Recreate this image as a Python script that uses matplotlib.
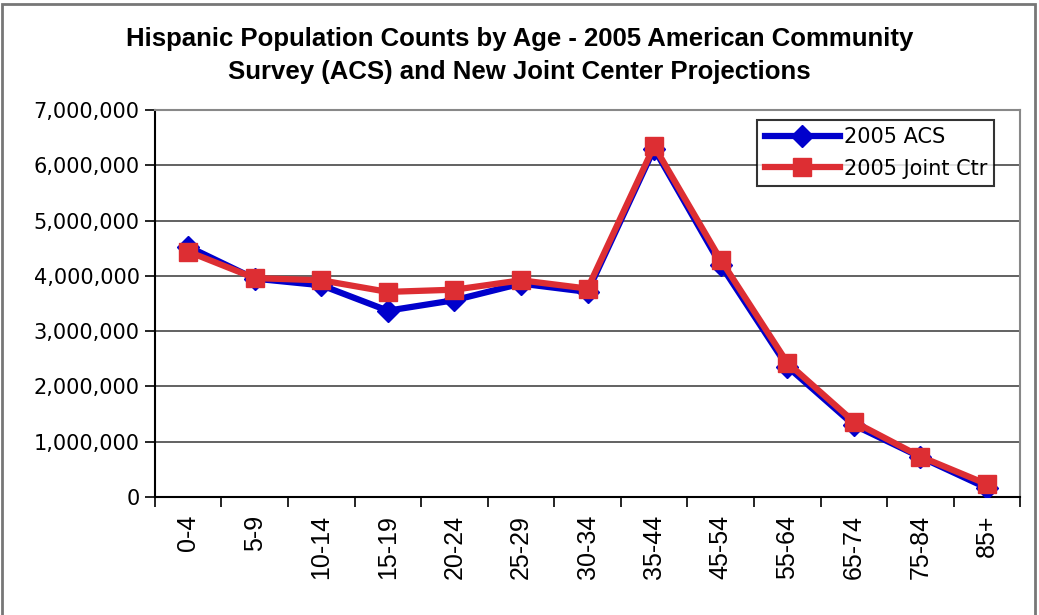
import matplotlib
matplotlib.use("Agg")
import matplotlib.pyplot as plt
from matplotlib.patches import Rectangle
from matplotlib.ticker import FuncFormatter, FixedLocator
import numpy as np

# datos
edades = ["0-4", "5-9", "10-14", "15-19", "20-24", "25-29", "30-34",
          "35-44", "45-54", "55-64", "65-74", "75-84", "85+"]
acs_2005 = [4530000, 3950000, 3830000, 3370000, 3560000, 3860000, 3710000,
            6300000, 4200000, 2360000, 1300000, 720000, 160000]
joint_ctr_2005 = [4440000, 3960000, 3920000, 3710000, 3750000, 3920000, 3770000,
                  6350000, 4290000, 2430000, 1360000, 730000, 230000]

fig = plt.figure(figsize=(10.39, 6.15), dpi=100)
ax = fig.add_axes([0.149, 0.192, 0.833, 0.629])

x = np.arange(len(edades))
ax.plot(x, acs_2005, color="#0000CC", lw=4.5, marker="D", ms=11,
        label="2005 ACS", zorder=3)
ax.plot(x, joint_ctr_2005, color="#DD2E33", lw=4.5, marker="s", ms=13,
        label="2005 Joint Ctr", zorder=4)

ax.set_xlim(-0.5, len(edades) - 0.5)
ax.set_ylim(0, 7000000)
ax.set_yticks(np.arange(0, 7000001, 1000000))
ax.yaxis.set_major_formatter(FuncFormatter(lambda v, p: f"{int(v):,}"))
ax.yaxis.grid(True, color="#555555", lw=1.3)
ax.set_axisbelow(True)

# ticks del eje x entre categorias, etiquetas en el centro
ax.xaxis.set_major_locator(FixedLocator(np.arange(-0.5, len(edades), 1)))
ax.set_xticklabels([""] * (len(edades) + 1))
ax.set_xticks(x, minor=True)
ax.set_xticklabels(edades, minor=True, rotation=90, fontsize=18,
                   family="Liberation Sans")
ax.tick_params(axis="x", which="minor", length=0, pad=13)
ax.tick_params(axis="x", which="major", length=7, width=1.2, direction="out")
ax.tick_params(axis="y", length=7, width=1.2, labelsize=15, pad=4)
for lab in ax.get_yticklabels():
    lab.set_family("DejaVu Sans")

for s in ["top", "right"]:
    ax.spines[s].set_color("#888888")
    ax.spines[s].set_linewidth(1.5)
for s in ["left", "bottom"]:
    ax.spines[s].set_color("black")
    ax.spines[s].set_linewidth(1.5)

leg = ax.legend(loc="upper right", bbox_to_anchor=(0.97, 0.975), fontsize=15,
                frameon=True, fancybox=False, handlelength=3.6,
                borderpad=0.35, labelspacing=0.55, handletextpad=0.2,
                borderaxespad=0)
leg.get_frame().set_edgecolor("black")
leg.get_frame().set_linewidth(1.5)
for t in leg.get_texts():
    t.set_family("DejaVu Sans")

fig.text(0.5, 0.91, "Hispanic Population Counts by Age - 2005 American Community\n"
         "Survey (ACS) and New Joint Center Projections",
         ha="center", va="center", fontsize=18.5, fontweight="bold",
         family="Liberation Sans", linespacing=1.45)

fig.patches.append(Rectangle((0.002, -0.01), 0.994, 1.004, transform=fig.transFigure,
                             fill=False, edgecolor="#777777", lw=2))

plt.savefig("out.png", dpi=100)
